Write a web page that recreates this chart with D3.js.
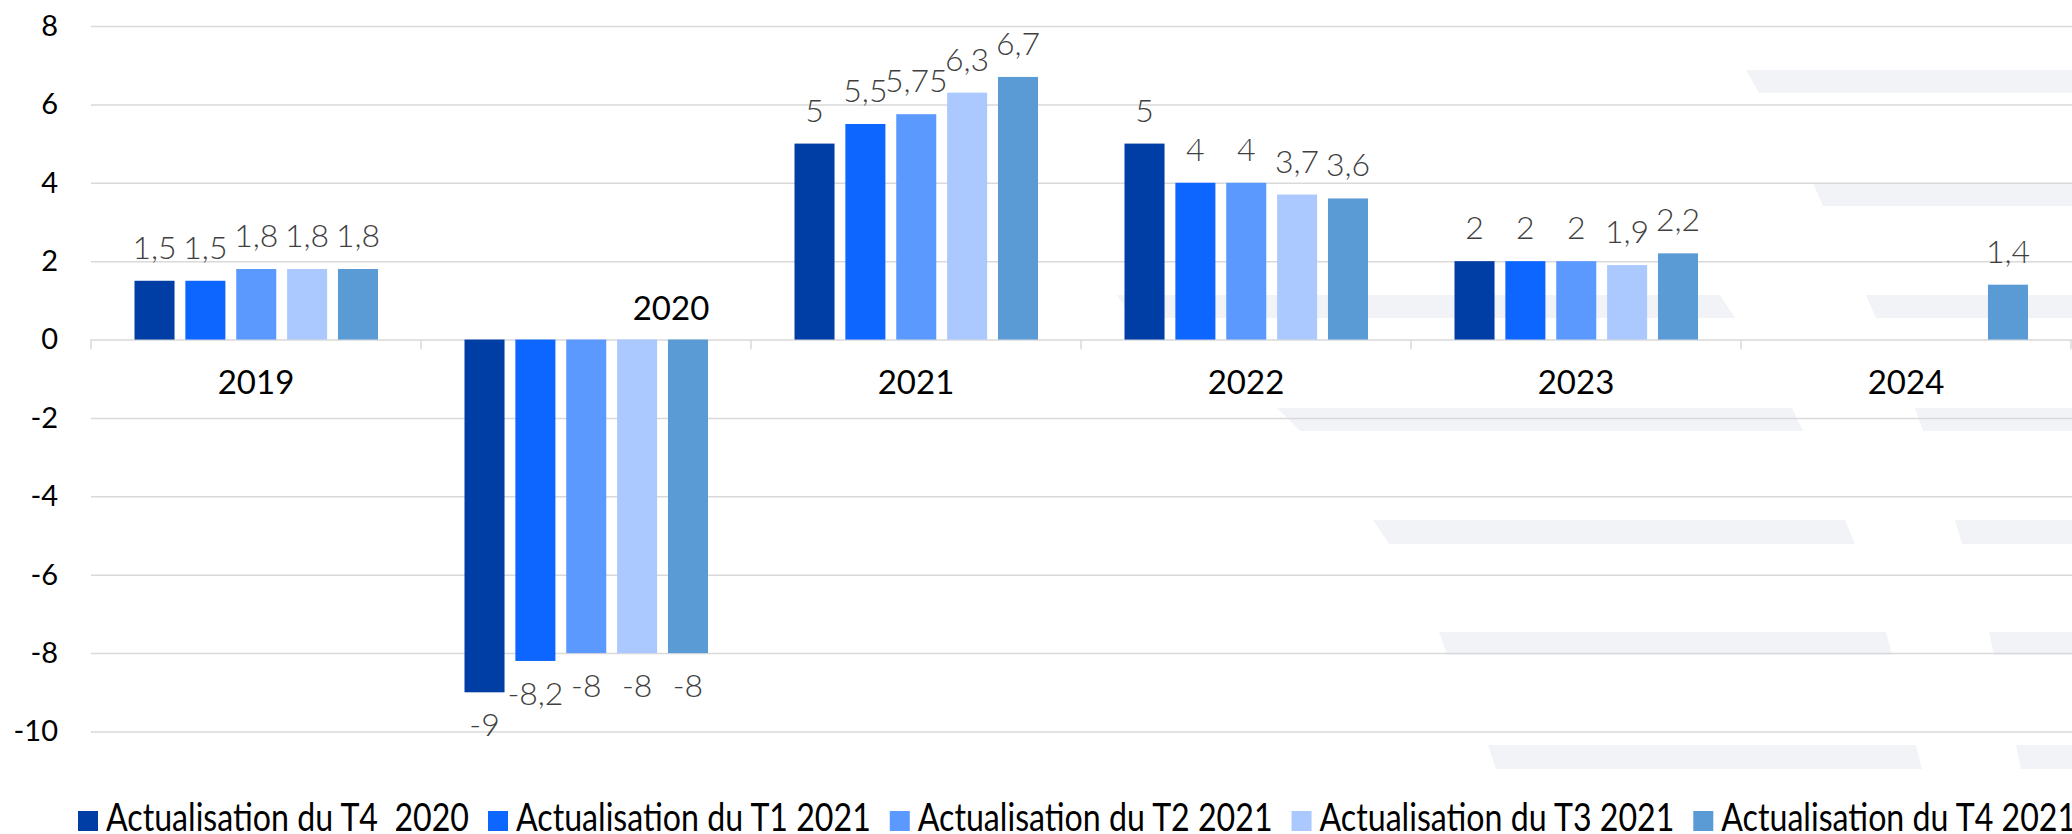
<!DOCTYPE html>
<html>
<head>
<meta charset="utf-8">
<script src="https://cdn.jsdelivr.net/npm/d3@7"></script>
<style>
  body { margin: 0; background: #fff; }
  svg { display: block; font-family: Lato, "Open Sans", sans-serif; }
</style>
</head>
<body>
<svg id="chart" width="2072" height="834"></svg>
<script>
// Années (catégories)
const categories = ["2019", "2020", "2021", "2022", "2023", "2024"];

// Séries (légende)
const seriesNames = [
  "Actualisation du T4  2020",
  "Actualisation du T1 2021",
  "Actualisation du T2 2021",
  "Actualisation du T3 2021",
  "Actualisation du T4 2021"
];

// Valeurs par série, dans l'ordre des années
const t4_2020 = [1.5, -9, 5, 5, 2, null];
const t1_2021 = [1.5, -8.2, 5.5, 4, 2, null];
const t2_2021 = [1.8, -8, 5.75, 4, 2, null];
const t3_2021 = [1.8, -8, 6.3, 3.7, 1.9, null];
const t4_2021 = [1.8, -8, 6.7, 3.6, 2.2, 1.4];
const seriesValues = [t4_2020, t1_2021, t2_2021, t3_2021, t4_2021];

// Graduations de l'axe vertical
const yTicks = [8, 6, 4, 2, 0, -2, -4, -6, -8, -10];

const colors = ["#003da5", "#0d66ff", "#5b99ff", "#abc9ff", "#5b9bd5"];

const svg = d3.select("#chart");
const W = 2072;
const plotLeft = 91, plotRight = 2071, plotTop = 26, plotBottom = 731.5;

// Bandes décoratives en fond (filigrane)
const stripes = [
  [1746, 1759, 2072, 2072, 70, 93],
  [1813, 1823, 2072, 2072, 183, 206],
  [1117, 1132, 1720, 1735, 295, 318],
  [1866, 1876, 2072, 2072, 295, 318],
  [1277, 1300, 1792, 1803, 408, 431],
  [1915, 1923, 2072, 2072, 408, 431],
  [1373, 1389, 1845, 1855, 520, 544],
  [1955, 1962, 2072, 2072, 520, 544],
  [1439, 1447, 1886, 1892, 632, 655],
  [1989, 1994, 2072, 2072, 632, 655],
  [1488, 1496, 1916, 1922, 745, 769],
  [2016, 2021, 2072, 2072, 745, 769]
];
svg.append("g").selectAll("path")
  .data(stripes)
  .join("path")
  .attr("d", s => `M${s[0]},${s[4]}L${s[2]},${s[4]}L${s[3]},${s[5]}L${s[1]},${s[5]}Z`)
  .attr("fill", "#f2f3f7");

// Échelles
const y = d3.scaleLinear().domain([-10, 8]).range([plotBottom, plotTop]);
const x0 = d3.scaleBand().domain(categories).range([plotLeft, plotRight]);
const x1 = d3.scaleBand().domain(seriesNames).range([43.5, 287]).paddingInner(0.213);

// Quadrillage horizontal
svg.append("g")
  .attr("transform", `translate(${plotLeft},0)`)
  .call(d3.axisLeft(y).tickValues(yTicks).tickSize(-(W - plotLeft)).tickFormat(""))
  .call(g => g.select(".domain").remove())
  .call(g => g.selectAll("line").attr("stroke", "#d9d9d9").attr("stroke-width", 1.5));

// Libellés de l'axe vertical
svg.append("g")
  .attr("transform", `translate(${plotLeft},0)`)
  .call(d3.axisLeft(y).tickValues(yTicks).tickSize(0).tickPadding(33).tickFormat(d => d))
  .call(g => g.select(".domain").remove())
  .call(g => g.selectAll("text")
    .attr("font-family", "Lato, sans-serif")
    .attr("font-size", 29)
    .attr("fill", "#000"));

// Petites graduations entre les années
const bounds = categories.map(c => x0(c)).concat([plotRight]);
svg.append("g").selectAll("line")
  .data(bounds)
  .join("line")
  .attr("x1", d => d).attr("x2", d => d)
  .attr("y1", y(0)).attr("y2", y(0) + 10)
  .attr("stroke", "#d9d9d9").attr("stroke-width", 1.5);

// Barres
const cells = [];
categories.forEach((c, i) => {
  seriesNames.forEach((s, j) => {
    const v = seriesValues[j][i];
    if (v !== null) cells.push({ cat: c, serie: s, idx: j, value: v });
  });
});

const groups = svg.append("g").selectAll("g")
  .data(cells)
  .join("g");

groups.append("rect")
  .attr("x", d => x0(d.cat) + x1(d.serie))
  .attr("width", x1.bandwidth())
  .attr("y", d => y(Math.max(0, d.value)))
  .attr("height", d => Math.abs(y(d.value) - y(0)))
  .attr("fill", d => colors[d.idx]);

// Étiquettes de données
groups.append("text")
  .attr("x", d => x0(d.cat) + x1(d.serie) + x1.bandwidth() / 2)
  .attr("y", d => d.value >= 0 ? y(d.value) - 22 : y(d.value) + 44)
  .attr("text-anchor", "middle")
  .attr("font-size", 32)
  .attr("font-weight", 300)
  .attr("fill", "#404040")
  .text(d => String(d.value).replace(".", ","));

// Libellés des années
svg.append("g").selectAll("text")
  .data(categories)
  .join("text")
  .attr("x", (c, i) => {
    const neg = seriesValues.every(s => s[i] === null || s[i] < 0);
    return x0(c) + x0.bandwidth() / 2 + (neg ? 85 : 0);
  })
  .attr("y", (c, i) => {
    const neg = seriesValues.every(s => s[i] === null || s[i] < 0);
    return neg ? y(0) - 20 : y(0) + 54;
  })
  .attr("text-anchor", "middle")
  .attr("font-size", 33)
  .attr("fill", "#000")
  .text(c => c);

// Légende (police étroite : on resserre le texte)
const legend = svg.append("g");
let lx = 78;
let squeeze = null;
seriesNames.forEach((s, j) => {
  legend.append("rect")
    .attr("x", lx).attr("y", 811)
    .attr("width", 20).attr("height", 20)
    .attr("fill", colors[j]);
  const t = legend.append("text")
    .attr("x", lx + 28).attr("y", 831)
    .attr("font-size", 38)
    .attr("fill", "#000")
    .style("white-space", "pre")
    .text(s);
  const natural = t.node().getComputedTextLength();
  if (squeeze === null) squeeze = 363 / natural;
  const w = natural * squeeze;
  t.attr("textLength", w).attr("lengthAdjust", "spacingAndGlyphs");
  lx = lx + 28 + w + 19;
});
</script>
</body>
</html>
